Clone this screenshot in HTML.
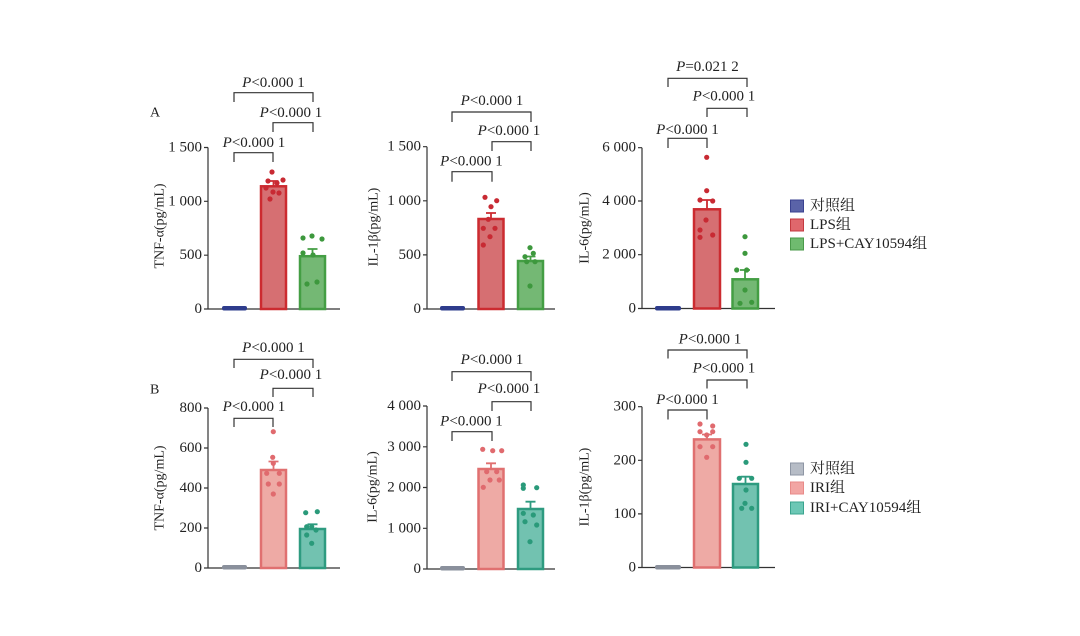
<!DOCTYPE html>
<html><head><meta charset="utf-8"><style>
html,body{margin:0;padding:0;background:#fff;}
svg{display:block;}
text{font-family:"Liberation Serif","Noto Serif CJK SC","Noto Sans CJK SC",serif;font-size:15px;fill:#222;}
.t{text-anchor:end;dominant-baseline:central;}
.p{text-anchor:middle;dominant-baseline:central;}
.ax{stroke:#333;stroke-width:1.2;fill:none;}
.br{stroke:#333;stroke-width:1.2;fill:none;}
</style></head><body>
<svg width="1080" height="636" viewBox="0 0 1080 636" xmlns="http://www.w3.org/2000/svg">
<rect width="1080" height="636" fill="#fff"/>

<!-- ================= A1 ================= -->
<text x="150" y="113" style="dominant-baseline:central;font-size:14px">A</text>
<path class="ax" d="M208 147.5 V309 H340 M204 147.5 H208 M204 201.3 H208 M204 255.2 H208 M204 309 H208"/>
<text class="t" x="202" y="309">0</text>
<text class="t" x="202" y="255.2">500</text>
<text class="t" x="202" y="201.3">1 000</text>
<text class="t" x="202" y="147.5">1 500</text>
<text class="p" transform="translate(160,226) rotate(-90)" style="font-size:14px">TNF-α(pg/mL)</text>
<rect x="222" y="306" width="25" height="4.5" rx="2" fill="#2e3c8c"/>
<rect x="261" y="186.3" width="25" height="122.7" fill="#d66f72" stroke="#cc2b30" stroke-width="2.5"/>
<path d="M273.5 186.3 V181 M268.5 181 H278.5" stroke="#cc2b30" stroke-width="1.8"/>
<rect x="300" y="256.2" width="25" height="52.8" fill="#74b874" stroke="#449e44" stroke-width="2.5"/>
<path d="M312.5 256.2 V249 M307.5 249 H317.5" stroke="#449e44" stroke-width="1.8"/>
<g fill="#c82a33">
<circle cx="272" cy="172" r="2.6"/><circle cx="268" cy="181" r="2.6"/><circle cx="277" cy="183" r="2.6"/><circle cx="283" cy="180" r="2.6"/><circle cx="266" cy="188" r="2.6"/><circle cx="273" cy="192" r="2.6"/><circle cx="279" cy="193" r="2.6"/><circle cx="270" cy="199" r="2.6"/>
</g>
<g fill="#3d983d">
<circle cx="303" cy="238" r="2.6"/><circle cx="312" cy="236" r="2.6"/><circle cx="322" cy="239" r="2.6"/><circle cx="303" cy="253" r="2.6"/><circle cx="313" cy="255" r="2.6"/><circle cx="307" cy="284" r="2.6"/><circle cx="317" cy="282" r="2.6"/>
</g>
<path class="br" d="M234 102 V92.7 H313 V102 M273 132 V122.7 H313 V132 M234 162 V152.7 H273 V162"/>
<text class="p" x="273.5" y="83"><tspan font-style="italic">P</tspan>&lt;0.000 1</text>
<text class="p" x="291" y="113"><tspan font-style="italic">P</tspan>&lt;0.000 1</text>
<text class="p" x="254" y="143"><tspan font-style="italic">P</tspan>&lt;0.000 1</text>

<!-- ================= A2 ================= -->
<path class="ax" d="M427 146.7 V309 H555 M423 146.7 H427 M423 200.8 H427 M423 254.9 H427 M423 309 H427"/>
<text class="t" x="421" y="309">0</text>
<text class="t" x="421" y="254.9">500</text>
<text class="t" x="421" y="200.8">1 000</text>
<text class="t" x="421" y="146.7">1 500</text>
<text class="p" transform="translate(374,227) rotate(-90)" style="font-size:14px">IL-1β(pg/mL)</text>
<rect x="440" y="306" width="25" height="4.5" rx="2" fill="#2e3c8c"/>
<rect x="478.5" y="219" width="25" height="90" fill="#d66f72" stroke="#cc2b30" stroke-width="2.5"/>
<path d="M491 219 V213 M486 213 H496" stroke="#cc2b30" stroke-width="1.8"/>
<rect x="518" y="261" width="25" height="48" fill="#74b874" stroke="#449e44" stroke-width="2.5"/>
<path d="M530.5 261 V256.5 M525.5 256.5 H535.5" stroke="#449e44" stroke-width="1.8"/>
<g fill="#c82a33">
<circle cx="485" cy="197.3" r="2.6"/><circle cx="496.7" cy="200.7" r="2.6"/><circle cx="491" cy="206.7" r="2.6"/><circle cx="488.3" cy="219.3" r="2.6"/><circle cx="483.3" cy="228.3" r="2.6"/><circle cx="495" cy="228.3" r="2.6"/><circle cx="490" cy="236.7" r="2.6"/><circle cx="483.3" cy="245" r="2.6"/>
</g>
<g fill="#3d983d">
<circle cx="530" cy="247.7" r="2.6"/><circle cx="533.3" cy="253.3" r="2.6"/><circle cx="525" cy="256.7" r="2.6"/><circle cx="535" cy="261.7" r="2.6"/><circle cx="526.7" cy="261.7" r="2.6"/><circle cx="530" cy="286" r="2.6"/>
</g>
<path class="br" d="M452 122 V112 H531 V122 M492 151 V141.7 H531 V151 M452 181.7 V171.7 H492 V181.7"/>
<text class="p" x="492" y="101"><tspan font-style="italic">P</tspan>&lt;0.000 1</text>
<text class="p" x="509" y="131"><tspan font-style="italic">P</tspan>&lt;0.000 1</text>
<text class="p" x="471.5" y="161.7"><tspan font-style="italic">P</tspan>&lt;0.000 1</text>

<!-- ================= A3 ================= -->
<path class="ax" d="M642 147.7 V308.5 H775 M638 147.7 H642 M638 201 H642 M638 254.7 H642 M638 308.5 H642"/>
<text class="t" x="636" y="308.5">0</text>
<text class="t" x="636" y="254.7">2 000</text>
<text class="t" x="636" y="201">4 000</text>
<text class="t" x="636" y="147.7">6 000</text>
<text class="p" transform="translate(585,228) rotate(-90)" style="font-size:14px">IL-6(pg/mL)</text>
<rect x="655" y="306" width="26" height="4.5" rx="2" fill="#2e3c8c"/>
<rect x="694" y="209.3" width="26" height="99.2" fill="#d66f72" stroke="#cc2b30" stroke-width="2.5"/>
<path d="M707 209.3 V200 M702 200 H712" stroke="#cc2b30" stroke-width="1.8"/>
<rect x="732.5" y="279.3" width="25.5" height="29.2" fill="#74b874" stroke="#449e44" stroke-width="2.5"/>
<path d="M745 279.3 V270 M740 270 H750" stroke="#449e44" stroke-width="1.8"/>
<g fill="#c82a33">
<circle cx="706.7" cy="157.3" r="2.6"/><circle cx="706.7" cy="190.7" r="2.6"/><circle cx="700" cy="200" r="2.6"/><circle cx="712.7" cy="201" r="2.6"/><circle cx="706" cy="220" r="2.6"/><circle cx="700" cy="230" r="2.6"/><circle cx="700" cy="237.3" r="2.6"/><circle cx="712.7" cy="235" r="2.6"/>
</g>
<g fill="#3d983d">
<circle cx="745" cy="236.7" r="2.6"/><circle cx="745" cy="253.3" r="2.6"/><circle cx="736.7" cy="270" r="2.6"/><circle cx="746.7" cy="270" r="2.6"/><circle cx="745" cy="290" r="2.6"/><circle cx="740" cy="303.3" r="2.6"/><circle cx="751.7" cy="302.3" r="2.6"/>
</g>
<path class="br" d="M668 87 V78.3 H747 V87 M707 117 V108.3 H747 V117 M668 148 V138.3 H707 V148"/>
<text class="p" x="707.5" y="67"><tspan font-style="italic">P</tspan>=0.021 2</text>
<text class="p" x="724" y="96.7"><tspan font-style="italic">P</tspan>&lt;0.000 1</text>
<text class="p" x="687.5" y="130"><tspan font-style="italic">P</tspan>&lt;0.000 1</text>

<!-- Legend A -->
<rect x="790.5" y="200" width="13" height="12" fill="#5a63a8" stroke="#3a4290" stroke-width="1"/>
<rect x="790.5" y="219" width="13" height="12" fill="#e0676c" stroke="#c43a40" stroke-width="1"/>
<rect x="790.5" y="238" width="13" height="12" fill="#6fbb6f" stroke="#4a9a4a" stroke-width="1"/>
<text x="810" y="206" style="dominant-baseline:central">对照组</text>
<text x="810" y="225" style="dominant-baseline:central">LPS组</text>
<text x="810" y="244" style="dominant-baseline:central">LPS+CAY10594组</text>

<!-- ================= B1 ================= -->
<text x="150" y="390" style="dominant-baseline:central;font-size:14px">B</text>
<path class="ax" d="M208 408 V568 H340 M204 408 H208 M204 448 H208 M204 488 H208 M204 528 H208 M204 568 H208"/>
<text class="t" x="202" y="568">0</text>
<text class="t" x="202" y="528">200</text>
<text class="t" x="202" y="488">400</text>
<text class="t" x="202" y="448">600</text>
<text class="t" x="202" y="408">800</text>
<text class="p" transform="translate(160,488) rotate(-90)" style="font-size:14px">TNF-α(pg/mL)</text>
<rect x="222" y="565" width="25" height="4.5" rx="2" fill="#8a909c"/>
<rect x="261" y="470" width="25" height="98" fill="#eeaaa5" stroke="#e07070" stroke-width="2.5"/>
<path d="M273.5 470 V461.5 M268.5 461.5 H278.5" stroke="#e07070" stroke-width="1.8"/>
<rect x="300" y="529" width="25" height="39" fill="#72c2b0" stroke="#2e9b80" stroke-width="2.5"/>
<path d="M312.5 529 V524.3 M307.5 524.3 H317.5" stroke="#2e9b80" stroke-width="1.8"/>
<g fill="#e06a6e">
<circle cx="273.3" cy="431.7" r="2.6"/><circle cx="272.7" cy="457.3" r="2.6"/><circle cx="273.3" cy="463.3" r="2.6"/><circle cx="266.7" cy="473.3" r="2.6"/><circle cx="279.3" cy="473.3" r="2.6"/><circle cx="268.3" cy="484" r="2.6"/><circle cx="279.3" cy="484" r="2.6"/><circle cx="273.3" cy="494" r="2.6"/>
</g>
<g fill="#2a9a7a">
<circle cx="305.7" cy="512.7" r="2.6"/><circle cx="317.3" cy="511.7" r="2.6"/><circle cx="306.7" cy="526.7" r="2.6"/><circle cx="311.7" cy="526.7" r="2.6"/><circle cx="316" cy="530" r="2.6"/><circle cx="306.7" cy="535" r="2.6"/><circle cx="311.7" cy="543.3" r="2.6"/>
</g>
<path class="br" d="M234 368 V359.3 H313 V368 M273 397 V388.3 H313 V397 M234 427 V418.3 H273 V427"/>
<text class="p" x="273.5" y="348"><tspan font-style="italic">P</tspan>&lt;0.000 1</text>
<text class="p" x="291" y="375"><tspan font-style="italic">P</tspan>&lt;0.000 1</text>
<text class="p" x="254" y="407"><tspan font-style="italic">P</tspan>&lt;0.000 1</text>

<!-- ================= B2 ================= -->
<path class="ax" d="M427 406 V569 H555 M423 406 H427 M423 446.8 H427 M423 487.5 H427 M423 528.3 H427 M423 569 H427"/>
<text class="t" x="421" y="569">0</text>
<text class="t" x="421" y="528.3">1 000</text>
<text class="t" x="421" y="487.5">2 000</text>
<text class="t" x="421" y="446.8">3 000</text>
<text class="t" x="421" y="406">4 000</text>
<text class="p" transform="translate(373,487) rotate(-90)" style="font-size:14px">IL-6(pg/mL)</text>
<rect x="440" y="566" width="25" height="4.5" rx="2" fill="#8a909c"/>
<rect x="478.5" y="469" width="25" height="100" fill="#eeaaa5" stroke="#e07070" stroke-width="2.5"/>
<path d="M491 469 V463.3 M486 463.3 H496" stroke="#e07070" stroke-width="1.8"/>
<rect x="518" y="509" width="25" height="60" fill="#72c2b0" stroke="#2e9b80" stroke-width="2.5"/>
<path d="M530.5 509 V501.7 M525.5 501.7 H535.5" stroke="#2e9b80" stroke-width="1.8"/>
<g fill="#e06a6e">
<circle cx="482.7" cy="449.3" r="2.6"/><circle cx="492.7" cy="450.7" r="2.6"/><circle cx="501.7" cy="450.7" r="2.6"/><circle cx="486.7" cy="471.7" r="2.6"/><circle cx="496.7" cy="471.7" r="2.6"/><circle cx="490" cy="480" r="2.6"/><circle cx="499.3" cy="480" r="2.6"/><circle cx="483.3" cy="487.3" r="2.6"/>
</g>
<g fill="#2a9a7a">
<circle cx="523.3" cy="485" r="2.6"/><circle cx="523.3" cy="488.3" r="2.6"/><circle cx="536.7" cy="487.7" r="2.6"/><circle cx="523.3" cy="513.3" r="2.6"/><circle cx="533.3" cy="515" r="2.6"/><circle cx="525" cy="521.7" r="2.6"/><circle cx="536.7" cy="525" r="2.6"/><circle cx="530" cy="541.7" r="2.6"/>
</g>
<path class="br" d="M452 381 V371.7 H531 V381 M492 411 V401.7 H531 V411 M452 441 V431.7 H492 V441"/>
<text class="p" x="492" y="360"><tspan font-style="italic">P</tspan>&lt;0.000 1</text>
<text class="p" x="509" y="389"><tspan font-style="italic">P</tspan>&lt;0.000 1</text>
<text class="p" x="471.5" y="421.7"><tspan font-style="italic">P</tspan>&lt;0.000 1</text>

<!-- ================= B3 ================= -->
<path class="ax" d="M642 406.7 V567.5 H775 M638 406.7 H642 M638 460.3 H642 M638 513.9 H642 M638 567.5 H642"/>
<text class="t" x="636" y="567.5">0</text>
<text class="t" x="636" y="513.9">100</text>
<text class="t" x="636" y="460.3">200</text>
<text class="t" x="636" y="406.7">300</text>
<text class="p" transform="translate(585,487) rotate(-90)" style="font-size:14px">IL-1β(pg/mL)</text>
<rect x="655" y="565" width="26" height="4.5" rx="2" fill="#8a909c"/>
<rect x="694" y="439.4" width="26" height="128.1" fill="#eeaaa5" stroke="#e07070" stroke-width="2.5"/>
<path d="M707 439.4 V434.5 M702 434.5 H712" stroke="#e07070" stroke-width="1.8"/>
<rect x="733" y="484" width="25" height="83.5" fill="#72c2b0" stroke="#2e9b80" stroke-width="2.5"/>
<path d="M745.5 484 V476.7 M740.5 476.7 H750.5" stroke="#2e9b80" stroke-width="1.8"/>
<g fill="#e06a6e">
<circle cx="700" cy="424" r="2.6"/><circle cx="712.7" cy="426" r="2.6"/><circle cx="700" cy="431.7" r="2.6"/><circle cx="712.7" cy="431.7" r="2.6"/><circle cx="706.7" cy="435" r="2.6"/><circle cx="700" cy="446.7" r="2.6"/><circle cx="712.7" cy="446.7" r="2.6"/><circle cx="706.7" cy="457.3" r="2.6"/>
</g>
<g fill="#2a9a7a">
<circle cx="746" cy="444.3" r="2.6"/><circle cx="746" cy="462.3" r="2.6"/><circle cx="739.3" cy="478.3" r="2.6"/><circle cx="751.7" cy="478.3" r="2.6"/><circle cx="746" cy="490" r="2.6"/><circle cx="745" cy="503.3" r="2.6"/><circle cx="741.7" cy="508.3" r="2.6"/><circle cx="751.7" cy="508.3" r="2.6"/>
</g>
<path class="br" d="M668 358.5 V350 H747 V358.5 M707 388.5 V380 H747 V388.5 M668 419.5 V410 H707 V419.5"/>
<text class="p" x="710" y="339.3"><tspan font-style="italic">P</tspan>&lt;0.000 1</text>
<text class="p" x="724" y="368.3"><tspan font-style="italic">P</tspan>&lt;0.000 1</text>
<text class="p" x="687.5" y="400"><tspan font-style="italic">P</tspan>&lt;0.000 1</text>

<!-- Legend B -->
<rect x="790.5" y="463" width="13" height="12" fill="#b6bcc6" stroke="#8e96a4" stroke-width="1"/>
<rect x="790.5" y="482" width="13" height="12" fill="#f2a5a3" stroke="#e88a88" stroke-width="1"/>
<rect x="790.5" y="502" width="13" height="12" fill="#6cc7b5" stroke="#3aa48e" stroke-width="1"/>
<text x="810" y="469" style="dominant-baseline:central">对照组</text>
<text x="810" y="488" style="dominant-baseline:central">IRI组</text>
<text x="810" y="508" style="dominant-baseline:central">IRI+CAY10594组</text>
</svg>
</body></html>
